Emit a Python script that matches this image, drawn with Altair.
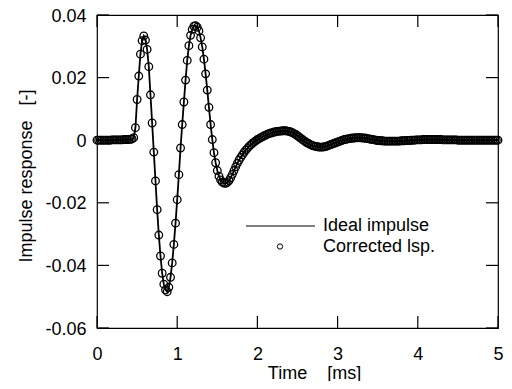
import altair as alt
import pandas as pd

FONT = "Liberation Sans"
NBSP = "\u00a0"

# sampling rate of the impulse responses (samples per millisecond)
SAMPLES_PER_MS = 48.0

# impulse response values, one per sample (0 .. 5 ms)
ideal = [
    0, 0, 0, 0, 0, 0, 0, 0, 0, 0.0001, 0.0001, 0.0001,
    0.0001, 0.0001, 0.0001, 0.0001, 0.0002, 0.0002, 0.0002, 0.0002, 0.0003, 0.0004, 0.0008, 0.0040,
    0.0130, 0.0205, 0.0275, 0.0318, 0.0333, 0.0320, 0.0290, 0.0235, 0.0145, 0.0055, -0.0038, -0.0130,
    -0.0222, -0.0303, -0.0370, -0.0425, -0.0460, -0.0478, -0.0484, -0.0470, -0.0438, -0.0392, -0.0333, -0.0265,
    -0.0190, -0.0110, -0.0025, 0.0050, 0.0122, 0.0192, 0.0255, 0.0302, 0.0335, 0.0354, 0.0364, 0.0366,
    0.0361, 0.0349, 0.0327, 0.0298, 0.0259, 0.0212, 0.0160, 0.0105, 0.0050, 0.0002, -0.0040, -0.0072,
    -0.0097, -0.0115, -0.0127, -0.0134, -0.0137, -0.0138, -0.0135, -0.0129, -0.0120, -0.0109, -0.0097, -0.0085,
    -0.0074, -0.0064, -0.0055, -0.0047, -0.0039, -0.0032, -0.0026, -0.0020, -0.0015, -0.0010, -0.0006, -0.0002,
    0.0002, 0.0005, 0.0008, 0.0011, 0.0014, 0.0016, 0.0019, 0.0021, 0.0023, 0.0024, 0.0026, 0.0027,
    0.0028, 0.0029, 0.0029, 0.0030, 0.0030, 0.0030, 0.0029, 0.0028, 0.0026, 0.0024, 0.0021, 0.0018,
    0.0014, 0.0010, 0.0006, 0.0002, -0.0002, -0.0006, -0.0009, -0.0012, -0.0015, -0.0017, -0.0019, -0.0020,
    -0.0021, -0.0022, -0.0022, -0.0022, -0.0021, -0.0020, -0.0018, -0.0016, -0.0014, -0.0012, -0.0010, -0.0008,
    -0.0006, -0.0004, -0.0002, 0.0000, 0.0002, 0.0003, 0.0004, 0.0005, 0.0006, 0.0007, 0.0007, 0.0008,
    0.0008, 0.0008, 0.0008, 0.0007, 0.0007, 0.0006, 0.0005, 0.0004, 0.0003, 0.0002, 0.0001, 0.0000,
    -0.0001, -0.0001, -0.0002, -0.0002, -0.0003, -0.0003, -0.0003, -0.0003, -0.0003, -0.0003, -0.0003, -0.0003,
    -0.0003, -0.0003, -0.0002, -0.0002, -0.0002, -0.0001, -0.0001, -0.0001, 0, 0, 0, 0.0001,
    0.0001, 0.0001, 0.0001, 0.0002, 0.0002, 0.0002, 0.0002, 0.0002, 0.0002, 0.0002, 0.0002, 0.0002,
    0.0002, 0.0002, 0.0002, 0.0001, 0.0001, 0.0001, 0.0001, 0.0001, 0.0001, 0.0001, 0.0001, 0.0001,
    0, 0, 0, 0, 0, 0, 0, 0, 0, 0, 0, 0,
    0, 0, 0, 0, 0, 0, 0, 0, 0, 0, 0, 0,
    0,
]
# corrected loudspeaker response overlaps the ideal one in the picture
corrected = list(ideal)

time_ms = [n / SAMPLES_PER_MS for n in range(len(ideal))]

x_ticks = [0, 1, 2, 3, 4, 5]
y_ticks = [-0.06, -0.04, -0.02, 0, 0.02, 0.04]

W, H = 401, 313
TICK = 12

df = pd.DataFrame({"t": time_ms, "v": ideal, "corr": corrected})
xs = alt.Scale(domain=[0, 5], nice=False, zero=False)
ys = alt.Scale(domain=[-0.06, 0.04], nice=False, zero=False)

y_label_expr = (
    "datum.value < 0 ? '-' + format(-datum.value, '.2f') : "
    "(datum.value == 0 ? '0' : format(datum.value, '.2f'))"
)

x_axis = alt.Axis(
    values=x_ticks, format="d", title="Time" + NBSP * 4 + "[ms]",
    ticks=False, tickSize=0, domain=False, grid=False, labelFlush=False,
    labelPadding=17, titleX=217, titleY=50,
    titleBaseline="alphabetic", titleAlign="center",
)
y_axis = alt.Axis(
    values=y_ticks, labelExpr=y_label_expr,
    title="Impulse" + NBSP + "response" + NBSP * 3 + "[-]",
    ticks=False, tickSize=0, domain=False, grid=False, labelFlush=False,
    labelPadding=11, labelOffset=1, titleX=-66, titleY=160.5, titleAngle=270,
    titleBaseline="alphabetic", titleAlign="center",
)

line = alt.Chart(df).mark_line(color="black", strokeWidth=1.8).encode(
    x=alt.X("t:Q", scale=xs, axis=x_axis),
    y=alt.Y("v:Q", scale=ys, axis=y_axis),
)

pts = alt.Chart(df).mark_point(
    shape="circle", filled=False, color="black", strokeWidth=1.3, size=58, opacity=1
).encode(
    x=alt.X("t:Q", scale=xs, axis=x_axis),
    y=alt.Y("corr:Q", scale=ys, axis=y_axis),
)

xt = pd.DataFrame({"t": x_ticks})
yt = pd.DataFrame({"v": y_ticks})

bottom = alt.Chart(xt).mark_rule(color="black", strokeWidth=1.2).encode(
    x=alt.X("t:Q", scale=xs, axis=x_axis), y=alt.value(H), y2=alt.value(H - TICK))
top = alt.Chart(xt).mark_rule(color="black", strokeWidth=1.2).encode(
    x=alt.X("t:Q", scale=xs, axis=x_axis), y=alt.value(0), y2=alt.value(TICK))
left = alt.Chart(yt).mark_rule(color="black", strokeWidth=1.2).encode(
    y=alt.Y("v:Q", scale=ys, axis=y_axis), x=alt.value(0), x2=alt.value(TICK))
right = alt.Chart(yt).mark_rule(color="black", strokeWidth=1.2).encode(
    y=alt.Y("v:Q", scale=ys, axis=y_axis), x=alt.value(W - TICK), x2=alt.value(W))

leg = pd.DataFrame({"k": [0]})
leg_line = alt.Chart(leg).mark_rule(color="black", strokeWidth=1).encode(
    x=alt.value(149), x2=alt.value(218), y=alt.value(211))
leg_pt = alt.Chart(leg).mark_point(
    shape="circle", filled=False, color="black", size=28, strokeWidth=1, opacity=1
).encode(x=alt.value(183), y=alt.value(231.5))
leg_t1 = alt.Chart(leg).mark_text(
    align="left", baseline="middle", font=FONT, fontSize=18, color="black"
).encode(x=alt.value(226), y=alt.value(211), text=alt.value("Ideal impulse"))
leg_t2 = alt.Chart(leg).mark_text(
    align="left", baseline="middle", font=FONT, fontSize=18, color="black"
).encode(x=alt.value(226), y=alt.value(231.5), text=alt.value("Corrected lsp."))

chart = alt.layer(
    line, pts, bottom, top, left, right, leg_line, leg_pt, leg_t1, leg_t2
).properties(
    width=W, height=H,
    autosize=alt.AutoSizeParams(type="none"),
    padding={"left": 89, "top": 7, "right": 6, "bottom": 53},
).configure_view(
    stroke="black", strokeWidth=1.2
).configure_axis(
    labelFont=FONT, labelFontSize=18, labelColor="black",
    titleFont=FONT, titleFontSize=18, titleFontWeight="normal", titleColor="black",
)

chart.save("out.html", embed_options={"renderer": "svg", "actions": False})
